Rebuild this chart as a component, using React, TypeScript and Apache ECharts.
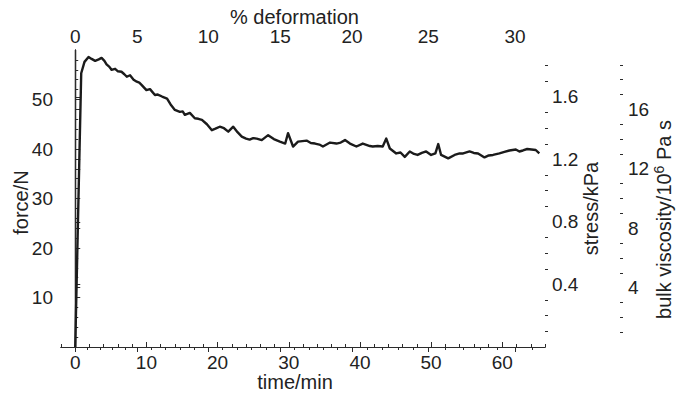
import React, { useEffect, useRef } from 'react';
import * as echarts from 'echarts';

// ---- data ----
const timeMin = [
  0, 0.84, 1.3, 1.87, 2.3, 2.8, 3.3, 3.7, 4.1, 4.4, 4.8, 5.1, 5.6, 6.0, 6.5, 6.9, 7.25, 7.7, 8.2, 8.65,
  9.0, 9.35, 10.0, 10.5, 11.2, 11.6, 12.2, 12.9, 13.4, 14.0, 14.7, 15.1, 15.4, 16.1, 16.8, 17.3, 17.8,
  18.5, 19.2, 19.7, 20.3, 20.9, 21.5, 22.2, 22.8, 23.4, 24.0, 24.5, 25.0, 25.5, 26.2, 27.1, 27.9, 28.75,
  29.5, 29.9, 30.6, 31.3, 32.5, 33.1, 33.7, 34.3, 34.8, 35.8, 36.7, 37.3, 37.9, 38.6, 39.5, 40.4, 41.4,
  41.8, 42.5, 43.2, 43.7, 44.2, 45.1, 45.7, 46.3, 47.0, 47.6, 48.1, 48.7, 49.3, 50.0, 50.6, 51.0, 51.4,
  52.4, 53.3, 54.0, 54.5, 55.4, 56.0, 56.6, 57.5, 58.1, 58.7, 59.6, 60.3, 61.0, 61.9, 62.4, 62.9, 63.5,
  64.1, 64.7, 65.2,
];
const forceN = [
  0, 55.3, 57.6, 58.6, 58.2, 57.8, 58.1, 58.4, 57.8, 57.1, 56.6, 56.0, 56.2, 55.7, 55.6, 55.1, 54.6, 54.9,
  54.0, 53.6, 53.4, 52.9, 51.9, 52.1, 50.9, 51.0, 50.6, 50.2, 49.0, 47.9, 47.5, 47.6, 46.9, 47.3, 46.2,
  46.1, 45.9, 45.0, 43.8, 44.1, 44.5, 44.2, 43.5, 44.5, 43.4, 42.5, 42.1, 41.9, 42.2, 42.1, 41.8, 42.8,
  42.0, 41.5, 41.1, 43.2, 40.5, 41.5, 41.7, 41.2, 41.1, 40.9, 40.5, 41.3, 41.1, 41.3, 41.8, 41.1, 40.5,
  41.1, 40.6, 40.5, 40.6, 40.5, 42.1, 40.1, 39.1, 39.3, 38.4, 39.5, 39.0, 38.8, 39.2, 39.5, 38.8, 39.1,
  41.0, 38.8, 38.1, 38.8, 39.1, 39.1, 39.5, 39.2, 39.1, 38.3, 38.7, 38.8, 39.1, 39.4, 39.7, 39.9, 39.5,
  39.7, 40.0, 39.9, 39.8, 39.1,
];

const timeTicks = [0, 10, 20, 30, 40, 50, 60];
const forceTicks = [10, 20, 30, 40, 50];
const stressTicks = [0.4, 0.8, 1.2, 1.6];
const viscTicks = [4, 8, 12, 16];
const deformTicks = [0, 5, 10, 15, 20, 25, 30];
// time (min) at which each % deformation tick sits on the top axis
const deformTickTimes = [0, 8.7, 18.7, 28.8, 38.9, 49.6, 61.8];

// ---- minor tick positions ----
function steps(from: number, to: number, step: number, skipEvery: number) {
  const out: number[] = [];
  for (let v = from; v <= to + 1e-9; v += step) {
    const r = Math.round(v * 1000) / 1000;
    const k = r / skipEvery;
    if (Math.abs(k - Math.round(k)) > 1e-6) out.push(r);
  }
  return out;
}
const timeMinor = steps(-2, 66, 2, 10);
const forceMinor = steps(2, 58, 2, 10);
const stressMinor = steps(0.1, 1.8, 0.1, 0.4);
const viscMinor = steps(1, 19, 1, 4);
const deformMinor: number[] = [];
for (let i = 0; i < deformTickTimes.length - 1; i++) {
  const a = deformTickTimes[i];
  const b = deformTickTimes[i + 1];
  for (let k = 1; k < 5; k++) deformMinor.push(a + ((b - a) * k) / 5);
}
{
  const a = deformTickTimes[5];
  const b = deformTickTimes[6];
  const d = (b - a) / 5;
  if (b + d <= 66) deformMinor.push(b + d);
}

const FONT = 'Liberation Sans, Arial, Helvetica, sans-serif';
const AX = '#2b2b2b';
const TX = '#222222';

function minorAxis(position: string, min: number, max: number, values: number[], inside: boolean, offset = 0) {
  return {
    type: 'value',
    position,
    offset,
    min,
    max,
    axisLine: { show: false },
    axisLabel: { show: false },
    splitLine: { show: false },
    axisTick: { show: true, inside, length: 3, customValues: values, lineStyle: { color: AX, width: 1 } },
  };
}

export default function App() {
  const ref = useRef<HTMLDivElement>(null);
  useEffect(() => {
    const chart = echarts.init(ref.current!, null, { renderer: 'svg' });
    const labelStyle = { fontSize: 19, lineHeight: 17, color: TX, fontFamily: FONT };
    const nameStyle = (padding: number[]) => ({ fontSize: 20, lineHeight: 18, color: TX, fontFamily: FONT, padding });
    const option: any = {
      animation: false,
      backgroundColor: '#ffffff',
      grid: { left: 61, right: 132, top: 50, bottom: 46, containLabel: false, outerBoundsMode: 'none' },
      xAxis: [
        {
          type: 'value',
          position: 'bottom',
          min: -2,
          max: 66,
          name: 'time/min',
          nameLocation: 'middle',
          nameMoveOverlap: false,
          nameGap: 26,
          nameTextStyle: nameStyle([0, 16, 0, 0]),
          axisLine: { show: true, lineStyle: { color: AX, width: 1.2 } },
          axisTick: { show: true, inside: true, length: 5, customValues: timeTicks, lineStyle: { color: AX } },
          axisLabel: { ...labelStyle, margin: 7, customValues: timeTicks },
          splitLine: { show: false },
        },
        {
          type: 'value',
          position: 'top',
          min: -2,
          max: 66,
          name: '% deformation',
          nameLocation: 'middle',
          nameMoveOverlap: false,
          nameGap: 24,
          nameTextStyle: nameStyle([0, 17, 0, 0]),
          axisLine: { show: true, lineStyle: { color: AX, width: 1.2 } },
          axisTick: { show: true, inside: true, length: 5, customValues: deformTickTimes, lineStyle: { color: AX } },
          axisLabel: {
            ...labelStyle,
            margin: 5,
            customValues: deformTickTimes,
            formatter: (v: number) => {
              const i = deformTickTimes.findIndex((t) => Math.abs(t - v) < 1e-6);
              return i >= 0 ? String(deformTicks[i]) : '';
            },
          },
          splitLine: { show: false },
        },
        minorAxis('bottom', -2, 66, timeMinor, true),
        minorAxis('top', -2, 66, deformMinor, true),
      ],
      yAxis: [
        {
          type: 'value',
          position: 'left',
          min: 0,
          max: 60,
          name: 'force/N',
          nameLocation: 'middle',
          nameMoveOverlap: false,
          nameRotate: 90,
          nameGap: 31,
          nameTextStyle: nameStyle([0, 8, 0, 0]),
          axisLine: { show: true, lineStyle: { color: AX, width: 1.2 } },
          axisTick: { show: true, inside: true, length: 5, customValues: forceTicks, lineStyle: { color: AX } },
          axisLabel: { ...labelStyle, margin: 8, customValues: forceTicks },
          splitLine: { show: false },
        },
        {
          type: 'value',
          position: 'right',
          min: 0,
          max: 1.9,
          name: 'stress/kPa',
          nameLocation: 'middle',
          nameMoveOverlap: false,
          nameRotate: 90,
          nameGap: 37,
          nameTextStyle: nameStyle([0, 20, 0, 0]),
          axisLine: { show: true, lineStyle: { color: AX, width: 1.2 } },
          axisTick: { show: true, inside: false, length: 5, customValues: stressTicks, lineStyle: { color: AX } },
          axisLabel: { ...labelStyle, margin: 7, customValues: stressTicks, formatter: (v: number) => v.toFixed(1) },
          splitLine: { show: false },
        },
        {
          type: 'value',
          position: 'right',
          offset: 75,
          min: 0,
          max: 20,
          name: '{n|bulk viscosity/10}{s|6}{n| Pa s}',
          nameLocation: 'middle',
          nameMoveOverlap: false,
          nameRotate: 90,
          nameGap: 35,
          nameTextStyle: {
            ...nameStyle([0, 42, 0, 0]),
            rich: {
              n: { fontSize: 20, lineHeight: 18, color: TX, fontFamily: FONT },
              s: { fontSize: 14, lineHeight: 14, color: TX, fontFamily: FONT, padding: [0, 0, 10, 0] },
            },
          },
          axisLine: { show: true, lineStyle: { color: AX, width: 1.2 } },
          axisTick: { show: true, inside: false, length: 5, customValues: viscTicks, lineStyle: { color: AX } },
          axisLabel: { ...labelStyle, margin: 8, customValues: viscTicks },
          splitLine: { show: false },
        },
        minorAxis('left', 0, 60, forceMinor, true),
        minorAxis('right', 0, 1.9, stressMinor, false),
        minorAxis('right', 0, 20, viscMinor, false, 75),
      ],
      series: [
        {
          type: 'line',
          xAxisIndex: 0,
          yAxisIndex: 0,
          data: timeMin.map((t, i) => [t, forceN[i]]),
          showSymbol: false,
          symbol: 'none',
          lineStyle: { color: '#1b1b1b', width: 2.4, join: 'round' },
          silent: true,
        },
      ],
    };
    chart.setOption(option);
    return () => chart.dispose();
  }, []);
  return <div ref={ref} style={{ position: 'absolute', left: 0, top: 0, width: 677, height: 393 }} />;
}
